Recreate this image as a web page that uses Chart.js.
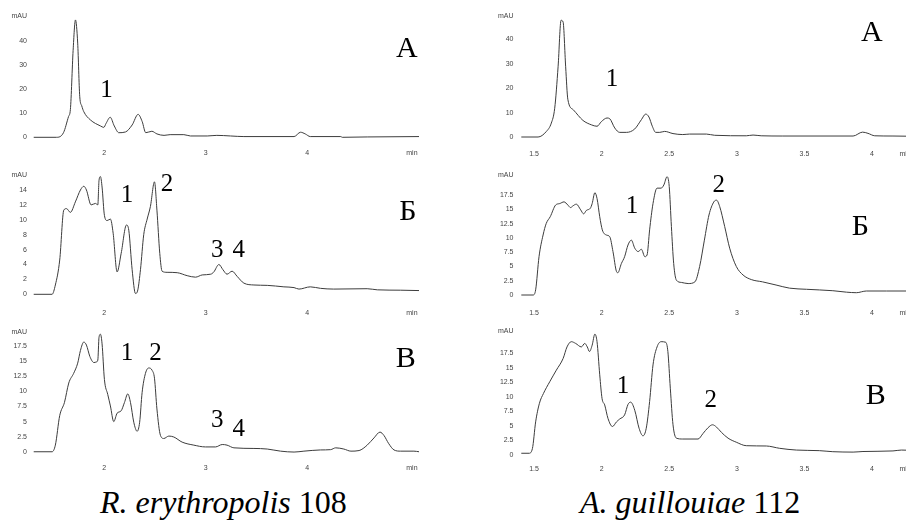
<!DOCTYPE html>
<html><head><meta charset="utf-8">
<script src="https://cdn.jsdelivr.net/npm/chart.js@4.4.0/dist/chart.umd.min.js"></script>
<style>
html,body{margin:0;padding:0;background:#fff;}
body{width:906px;height:521px;overflow:hidden;position:relative;}
canvas{position:absolute;}
.cap{position:absolute;font-family:"Liberation Serif","Times New Roman",serif;font-size:32px;line-height:32px;color:#000;white-space:nowrap;}
</style></head><body>
<canvas id="c0"></canvas><canvas id="c1"></canvas><canvas id="c2"></canvas>
<canvas id="c3"></canvas><canvas id="c4"></canvas><canvas id="c5"></canvas>
<div class="cap" style="left:100px;top:486px"><i>R. erythropolis</i> 108</div>
<div class="cap" style="left:580px;top:486px"><i>A. guillouiae</i> 112</div>
<script>
// ---------- data (time, min ; absorbance, mAU) ----------
// R. erythropolis 108, panel А
const reA_t = [1.307,1.53,1.60,1.65,1.668,1.695,1.718,1.74,1.76,1.78,1.80,1.865,1.964,1.997,2.02,2.06,2.10,2.145,2.21,2.276,2.335,2.375,2.41,2.47,2.52,2.59,2.65,2.785,2.85,3.015,3.11,3.245,3.376,3.87,3.934,3.98,4.03,4.33,4.345,4.59,5.1];
const reA_v = [0,0,1.9,8.6,11.5,36,48.6,39,17,13,10.6,7.2,4.7,4.1,5.8,8.3,4.7,1.9,2.2,5.1,9.5,6.5,1.9,2.5,1.4,0.8,1.1,1.1,0.55,0.55,0.8,0.55,0.3,0.3,2.1,1.4,0.3,0.3,0,0.15,0.3];
// R. erythropolis 108, panel Б
const reB_t = [1.307,1.488,1.52,1.563,1.603,1.63,1.668,1.717,1.767,1.80,1.826,1.872,1.915,1.938,1.95,1.964,1.98,2.003,2.03,2.062,2.089,2.128,2.168,2.22,2.243,2.276,2.309,2.332,2.358,2.39,2.424,2.456,2.496,2.52,2.548,2.571,2.62,2.72,2.818,2.90,2.966,3.05,3.08,3.13,3.17,3.21,3.26,3.31,3.376,3.475,3.606,3.77,3.87,3.918,4.03,4.13,4.26,4.59,4.69,4.92,5.1];
const reB_v = [0,0,1.25,4.6,11.3,11.5,11.0,12.4,14.0,14.5,14.0,12.0,12.2,12.0,15.3,15.8,14.4,10.6,9.9,10.1,8.2,3.0,5.5,9.3,8.6,3.3,0.1,0.6,3.3,8.0,10.1,11.8,15.1,11.3,5.5,3.1,2.95,2.9,2.5,2.3,2.6,2.7,3.0,4.0,3.3,2.7,3.1,2.4,1.5,1.25,1.2,1.0,0.9,0.7,1.0,0.8,0.7,0.75,0.6,0.55,0.5];
// R. erythropolis 108, panel В
const reV_t = [1.307,1.488,1.52,1.563,1.61,1.652,1.70,1.74,1.767,1.80,1.826,1.86,1.90,1.924,1.938,1.95,1.964,1.98,2.003,2.036,2.062,2.095,2.128,2.168,2.20,2.233,2.26,2.292,2.325,2.35,2.374,2.407,2.44,2.473,2.496,2.52,2.555,2.588,2.637,2.686,2.768,2.883,2.998,3.097,3.163,3.21,3.278,3.475,3.606,3.737,3.87,3.967,4.13,4.23,4.28,4.36,4.43,4.51,4.59,4.657,4.716,4.755,4.80,4.854,4.92,5.05,5.1];
const reV_v = [0,0,1.1,6.0,8.2,11.4,13.0,14.7,16.8,18.2,17.7,15.8,14.8,14.9,15.2,19.0,19.5,17.9,12.0,9.5,7.6,5.0,6.4,6.8,8.15,9.6,8.15,4.9,3.4,4.9,9.8,13.0,13.9,13.5,12.2,7.1,2.7,2.2,2.6,2.45,1.6,1.1,0.8,0.8,1.2,1.1,0.65,0.55,0.45,0.1,-0.05,0.1,0.3,0.35,0.65,0.45,0.1,0.2,1.1,2.3,3.26,2.7,1.4,0.3,0.1,0.1,0];
// A. guillouiae 112, panel А
const agA_t = [1.406,1.53,1.59,1.628,1.653,1.678,1.70,1.715,1.734,1.75,1.79,1.862,1.924,1.966,1.998,2.04,2.06,2.097,2.134,2.183,2.245,2.294,2.326,2.35,2.375,2.40,2.43,2.466,2.528,2.60,2.65,2.775,2.836,3.07,3.12,3.18,3.34,3.86,3.93,3.97,4.02,4.155,4.3];
const agA_v = [0,0,2.2,5.7,11.8,28.8,47.9,47.2,28.8,15.5,11.2,6.8,5.0,4.4,6.3,7.8,7.5,3.7,1.9,1.9,3.3,7.1,9.4,8.2,4.4,1.9,1.9,2.3,1.4,1.0,1.2,1.2,0.7,0.5,0.8,0.5,0.4,0.4,2.0,1.5,0.5,0.4,0.3];
// A. guillouiae 112, panel Б
const agB_t = [1.406,1.493,1.512,1.537,1.567,1.59,1.62,1.66,1.69,1.722,1.75,1.77,1.788,1.813,1.845,1.867,1.887,1.917,1.93,1.95,1.966,1.986,2.005,2.035,2.06,2.084,2.11,2.12,2.146,2.17,2.195,2.22,2.245,2.27,2.294,2.32,2.336,2.355,2.38,2.41,2.44,2.46,2.484,2.50,2.516,2.533,2.553,2.59,2.64,2.69,2.725,2.76,2.794,2.83,2.85,2.873,2.91,2.947,2.996,3.046,3.107,3.19,3.29,3.39,3.515,3.71,3.81,3.884,3.958,4.106,4.3];
const agB_v = [0,0,0.9,6.7,10.5,12.5,13.7,15.75,16.0,16.3,15.75,15.3,15.6,15.9,14.9,14.2,14.8,15.2,16.0,17.9,16.9,13.7,11.4,10.5,10.2,7.6,4.1,3.9,5.5,6.7,8.75,9.6,8.2,7.6,8.0,6.7,7.0,11.4,16.0,18.7,18.7,19.25,20.7,19.0,12.0,5.5,2.6,2.2,2.0,2.3,5.0,9.6,14.0,16.3,16.6,15.5,12.0,8.2,5.0,3.5,2.7,2.3,1.75,1.2,1.0,0.75,0.5,0.4,0.7,0.7,0.7];
// A. guillouiae 112, panel В
const agV_t = [1.406,1.463,1.488,1.512,1.54,1.57,1.616,1.665,1.715,1.744,1.776,1.808,1.85,1.875,1.894,1.91,1.93,1.95,1.966,1.986,2.003,2.023,2.047,2.08,2.11,2.134,2.17,2.195,2.215,2.245,2.277,2.306,2.33,2.355,2.38,2.41,2.44,2.474,2.49,2.508,2.528,2.553,2.60,2.713,2.75,2.787,2.82,2.85,2.886,2.935,2.996,3.07,3.218,3.317,3.44,3.61,3.71,3.86,3.933,4.155,4.217,4.3];
const agV_v = [0.3,0.3,1.1,5.7,8.9,10.6,12.6,14.6,16.6,18.6,19.5,19.2,18.6,19.2,18.6,17.8,18.9,20.8,19.5,13.8,9.75,8.6,6.3,4.9,5.7,6.2,6.9,8.7,9.1,7.7,4.6,3.3,4.6,9.2,15.5,18.6,19.5,19.4,17.8,11.5,5.2,2.9,2.75,2.75,3.7,4.7,5.2,4.8,3.9,2.9,2.2,1.6,1.55,1.15,0.85,0.75,0.57,0.5,0.6,0.7,0.85,0.8];

// ---------- tick labels ----------
const xTicksRe = [2,3,4];
const xTicksAg = [1.5,2,2.5,3,3.5,4];
const yTicksA  = [0,10,20,30,40];
const yTicksReB = [0,2,4,6,8,10,12,14];
const yTicksStep25 = [0,2.5,5,7.5,10,12.5,15,17.5];

// ---------- peak labels (text, time, mAU) ----------
const reA_peakText = ['1'];            const reA_peakX = [2.023];             const reA_peakY = [16.8];
const reB_peakText = ['1','2','3','4']; const reB_peakX = [2.226,2.62,3.113,3.326]; const reB_peakY = [12.4,13.8,5.05,5.05];
const reV_peakText = ['1','2','3','4']; const reV_peakX = [2.226,2.505,3.113,3.326]; const reV_peakY = [15.2,15.3,4.07,2.6];
const agA_peakText = ['1'];            const agA_peakX = [2.077];             const agA_peakY = [20.9];
const agB_peakText = ['1','2'];        const agB_peakX = [2.225,2.866];       const agB_peakY = [14.4,18.0];
const agV_peakText = ['1','2'];        const agV_peakX = [2.158,2.807];       const agV_peakY = [10.6,8.3];
const panelLetters = ['А','Б','В'];

// ---------- layout (pixels), kept apart from the data ----------
const SANS = '"Liberation Sans", Arial, sans-serif';
const SERIF = '"Liberation Serif", "Times New Roman", serif';
const panels = [
  {id:'c0', t:reA_t, v:reA_v, xT:xTicksRe, yT:yTicksA, pk:[reA_peakText,reA_peakX,reA_peakY], letter:[panelLetters[0],4.98,33.2], unitY:50, unitX:5.03,
   box:[0,0,453,165], L:33, R:419, zero:137.3, ppu:2.415, xr:[1.3,5.1], yr:[-1,50], xLab:153.3, yPad:6},
  {id:'c1', t:reB_t, v:reB_v, xT:xTicksRe, yT:yTicksReB, pk:[reB_peakText,reB_peakX,reB_peakY], letter:[panelLetters[1],4.99,9.97], unitY:16, unitX:5.03,
   box:[0,160,453,160], L:33, R:419, zero:294.3, ppu:7.45, xr:[1.3,5.1], yr:[-0.5,16.5], xLab:313, yPad:6},
  {id:'c2', t:reV_t, v:reV_v, xT:xTicksRe, yT:yTicksStep25, pk:[reV_peakText,reV_peakX,reV_peakY], letter:[panelLetters[2],4.97,14.1], unitY:19.8, unitX:5.03,
   box:[0,318,453,160], L:33, R:419, zero:451.7, ppu:6.137, xr:[1.3,5.1], yr:[-0.5,20.5], xLab:468, yPad:6},
  {id:'c3', t:agA_t, v:agA_v, xT:xTicksAg, yT:yTicksA, pk:[agA_peakText,agA_peakX,agA_peakY], letter:[panelLetters[0],3.998,39.5], unitY:49.5, unitX:4.245,
   box:[453,0,467,165], L:520.5, R:912.6, zero:137, ppu:2.4375, xr:[1.4,4.3], yr:[-1,50], xLab:154, yPad:7},
  {id:'c4', t:agB_t, v:agB_v, xT:xTicksAg, yT:yTicksStep25, pk:[agB_peakText,agB_peakX,agB_peakY], letter:[panelLetters[1],3.914,10.5], unitY:21, unitX:4.245,
   box:[453,160,467,160], L:520.5, R:912.6, zero:295, ppu:5.714, xr:[1.4,4.3], yr:[-0.5,21.5], xLab:312.7, yPad:7},
  {id:'c5', t:agV_t, v:agV_v, xT:xTicksAg, yT:yTicksStep25, pk:[agV_peakText,agV_peakX,agV_peakY], letter:[panelLetters[2],4.027,8.7], unitY:21.4, unitX:4.245,
   box:[453,318,467,160], L:520.5, R:912.6, zero:455, ppu:5.811, xr:[1.4,4.3], yr:[-0.5,21.5], xLab:469, yPad:7}
];

const panelText = {
  id:'panelText',
  afterDatasetsDraw(chart, args, o){
    const {ctx} = chart; const x = chart.scales.x, y = chart.scales.y;
    ctx.save();
    ctx.font = '7px ' + SANS; ctx.fillStyle = '#444';
    ctx.textAlign = 'right'; ctx.textBaseline = 'middle';
    ctx.fillText('mAU', chart.chartArea.left - o.yPad, y.getPixelForValue(o.unitY));
    ctx.textAlign = 'center';
    ctx.fillText('min', x.getPixelForValue(o.unitX), x.top + o.xPad + 4.2);
    ctx.fillStyle = '#000'; ctx.textBaseline = 'alphabetic';
    ctx.font = '25px ' + SERIF;
    const [tx, px, py] = o.pk;
    tx.forEach((s,i)=>ctx.fillText(s, x.getPixelForValue(px[i]), y.getPixelForValue(py[i])));
    ctx.font = '30px ' + SERIF;
    ctx.fillText(o.letter[0], x.getPixelForValue(o.letter[1]), y.getPixelForValue(o.letter[2]));
    ctx.restore();
  }
};

panels.forEach(p=>{
  const [cx,cy,cw,ch] = p.box;
  const T = p.zero - p.yr[1]*p.ppu, B = p.zero - p.yr[0]*p.ppu;
  const cv = document.getElementById(p.id);
  cv.width = cw; cv.height = ch;
  cv.style.left = cx+'px'; cv.style.top = cy+'px'; cv.style.width = cw+'px'; cv.style.height = ch+'px';
  const xPad = p.xLab - B - 4.2;
  new Chart(cv, {
    type:'line',
    data:{datasets:[{data:p.t.map((t,i)=>({x:t,y:p.v[i]})), borderColor:'#3c3c3c', borderWidth:1, pointRadius:0,
      cubicInterpolationMode:'monotone', fill:false, clip:false}]},
    options:{
      responsive:false, animation:false, devicePixelRatio:1,
      layout:{padding:{left:0, top:T-cy, right:cx+cw-p.R, bottom:0}},
      plugins:{legend:{display:false}, tooltip:{enabled:false},
        panelText:{pk:p.pk, letter:p.letter, unitY:p.unitY, unitX:p.unitX, yPad:p.yPad, xPad:xPad}},
      scales:{
        x:{type:'linear', min:p.xr[0], max:p.xr[1],
           afterFit:s=>{s.height = cy+ch-B;},
           afterBuildTicks:s=>{s.ticks = p.xT.map(v=>({value:v}));},
           grid:{display:false, drawTicks:false}, border:{display:false},
           ticks:{padding:xPad, autoSkip:false, maxRotation:0, color:'#444', font:{size:7, family:SANS}, callback:v=>String(v)}},
        y:{type:'linear', min:p.yr[0], max:p.yr[1],
           afterFit:s=>{s.width = p.L-cx;},
           afterBuildTicks:s=>{s.ticks = p.yT.map(v=>({value:v}));},
           grid:{display:false, drawTicks:false}, border:{display:false},
           ticks:{padding:p.yPad, autoSkip:false, color:'#444', font:{size:7, family:SANS}, callback:v=>String(v)}}
      }
    },
    plugins:[panelText]
  });
});
</script>
</body></html>
